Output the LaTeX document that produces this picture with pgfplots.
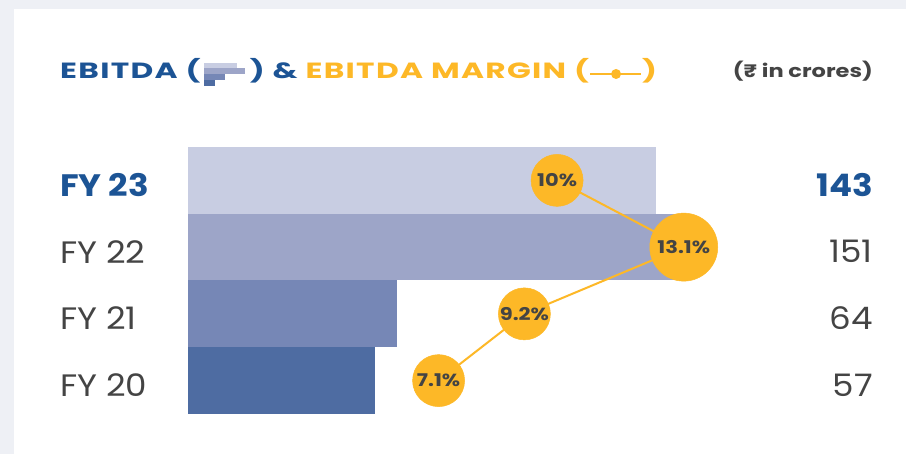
\documentclass[border=0pt]{standalone}
\usepackage{fontspec}
\setmainfont{Poppins}[FakeStretch=1.1]
\newfontfamily\titlefont{Poppins}[FakeStretch=1.42, LetterSpace=6]
\newfontfamily\unitfont{Poppins}[FakeStretch=1.25]
\newfontfamily\circfont{Poppins}[FakeStretch=1.2]
\usepackage{pgfplots}
\pgfplotsset{compat=1.18}
\definecolor{ebblue}{HTML}{1C5495}
\definecolor{ebor}{HTML}{FDB827}
\definecolor{txtgray}{HTML}{444444}
\definecolor{bggray}{HTML}{EEF0F5}
\definecolor{c20}{HTML}{4E6CA2}
\definecolor{c21}{HTML}{7687B6}
\definecolor{c22}{HTML}{9DA5C8}
\definecolor{c23}{HTML}{C8CDE2}
\begin{document}
\begin{tikzpicture}
\useasboundingbox (0,0) rectangle (906pt,454pt);
\fill[bggray] (0,0) rectangle (906pt,454pt);
\fill[white] (14pt,0) rectangle (906pt,445pt);

% title
\node[anchor=base west, inner sep=0pt, font=\fontsize{22}{26}\titlefont\bfseries] at (60pt,375pt)
  {\textcolor{ebblue}{EBITDA (\,%
   \rlap{\textcolor{c23}{\rule[11pt]{33pt}{5pt}}}%
   \rlap{\textcolor{c22}{\rule[5pt]{41pt}{6pt}}}%
   \rlap{\textcolor{c21}{\rule[-1pt]{21pt}{6pt}}}%
   \rlap{\textcolor{c20}{\rule[-7pt]{11pt}{6pt}}}%
   \hspace{42pt}\,) \&} \textcolor{ebor}{EBITDA MARGIN (\tikz[baseline=0pt]{\draw[ebor, line width=2pt] (0,5pt) -- (51pt,5pt); \fill[ebor] (26pt,5pt) circle (5pt);})}};
\node[anchor=base east, inner sep=0pt, font=\fontsize{18}{22}\unitfont\bfseries, text=txtgray] at (873pt,376pt) {(₹ in crores)};

% EBITDA bars
\begin{axis}[
    at={(188pt,40pt)}, anchor=south west,
    scale only axis, width=685pt, height=267pt,
    xmin=0, xmax=209.3, ymin=0.5, ymax=4.5,
    axis line style={draw=none},
    xtick=\empty, ytick={1,2,3,4},
    yticklabels={FY 20,FY 21,FY 22,\textcolor{ebblue}{\bfseries FY 23}},
    major tick length=0pt,
    yticklabel style={anchor=west, inner sep=0pt, xshift=-128pt, yshift=-4.5pt,
      font=\fontsize{31}{36}\selectfont, text=txtgray},
    xbar, bar width=1, bar shift=0pt, clip=false
  ]
  \addplot[fill=c20, draw=none] coordinates {(57,1)};
  \addplot[fill=c21, draw=none] coordinates {(64,2)};
  \addplot[fill=c22, draw=none] coordinates {(151,3)};
  \addplot[fill=c23, draw=none] coordinates {(143,4)};
  \node[anchor=east, inner sep=0pt, yshift=-4.5pt, font=\fontsize{31}{36}\selectfont, text=txtgray] at (axis cs:209.3,1) {57};
  \node[anchor=east, inner sep=0pt, yshift=-4.5pt, font=\fontsize{31}{36}\selectfont, text=txtgray] at (axis cs:209.3,2) {64};
  \node[anchor=east, inner sep=0pt, yshift=-4.5pt, font=\fontsize{31}{36}\selectfont, text=txtgray] at (axis cs:209.3,3) {151};
  \node[anchor=east, inner sep=0pt, yshift=-4.5pt, font=\fontsize{31}{36}\selectfont\bfseries, text=ebblue] at (axis cs:209.3,4) {143};
\end{axis}

% EBITDA margin
\begin{axis}[
    at={(148.5pt,40pt)}, anchor=south west,
    scale only axis, width=694.6pt, height=267pt,
    xmin=0, xmax=17, ymin=0.5, ymax=4.5,
    hide axis, clip=false,
    /pgf/number format/assume math mode=true,
    every node near coord/.append style={anchor=center, inner sep=0pt,
      font=\fontsize{17.5}{21}\circfont\bfseries, text=txtgray},
    point meta=x
  ]
  \addplot[draw=ebor, line width=2pt, no marks]
    coordinates {(7.1,1) (9.2,2) (13.1,3) (10,4)};
  \addplot[only marks, mark=*, mark size=26pt,
    mark options={fill=ebor, draw=ebor, line width=0.5pt},
    nodes near coords={\pgfmathprintnumber{\pgfplotspointmeta}\%}]
    coordinates {(7.1,1) (9.2,2) (10,4)};
  \addplot[only marks, mark=*, mark size=34pt,
    mark options={fill=ebor, draw=ebor, line width=0.5pt},
    nodes near coords={\pgfmathprintnumber{\pgfplotspointmeta}\%}]
    coordinates {(13.1,3)};
\end{axis}
\end{tikzpicture}
\end{document}
